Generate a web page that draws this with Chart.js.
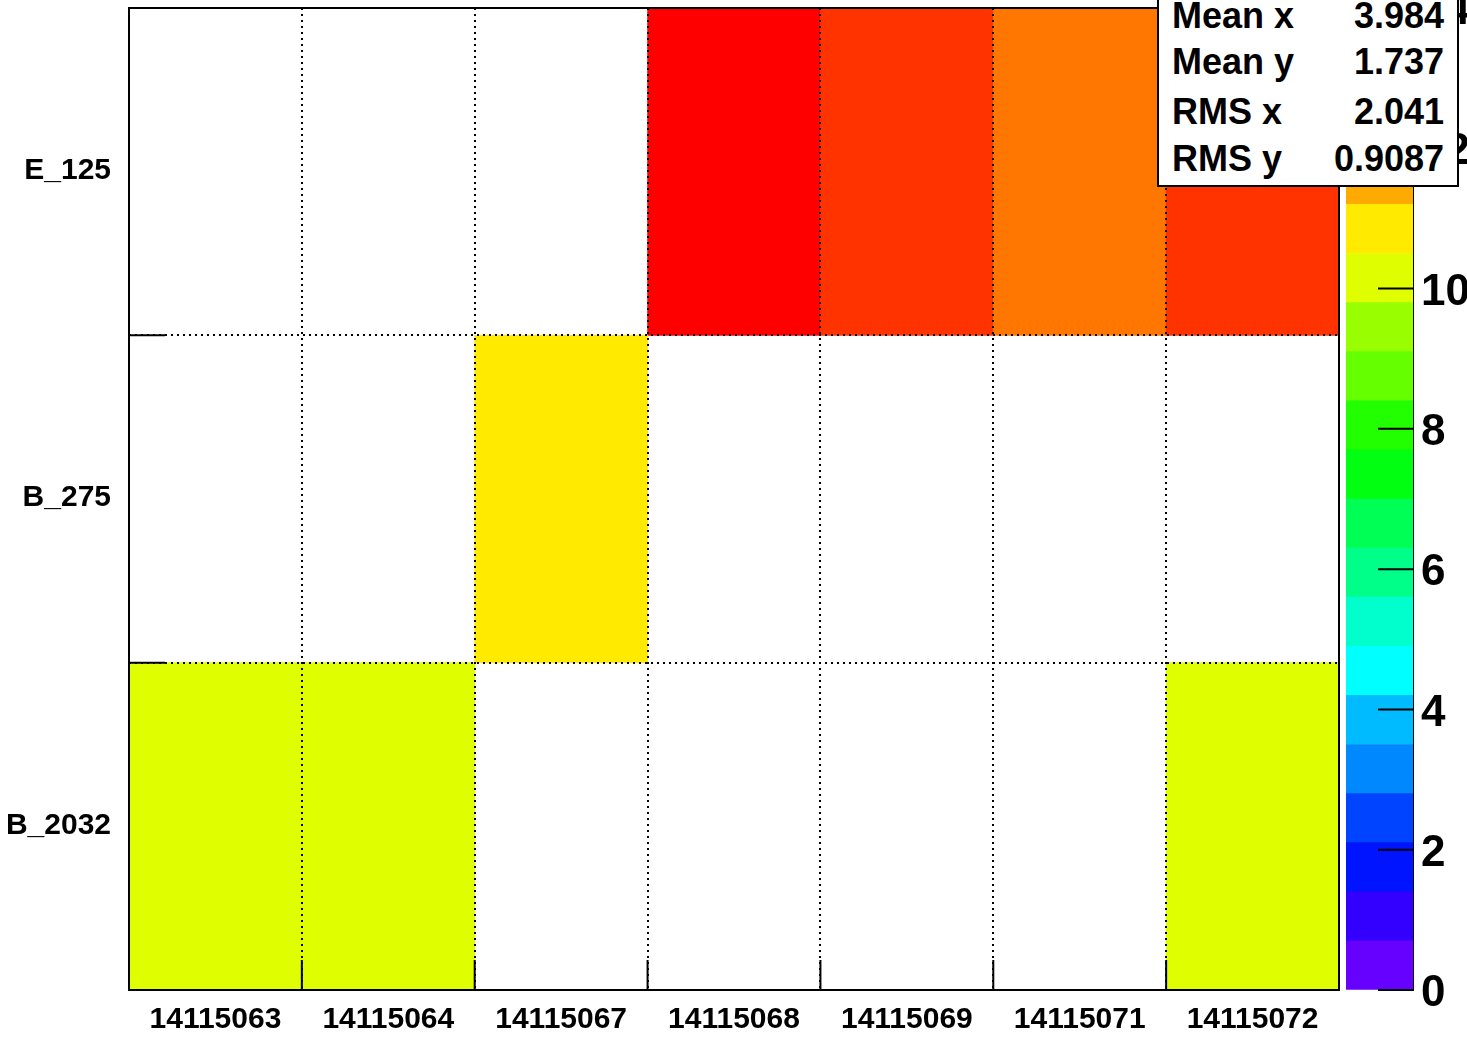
<!DOCTYPE html>
<html>
<head>
<meta charset="utf-8">
<title>Runs vs boards</title>
<script src="https://cdn.jsdelivr.net/npm/chart.js@4.4.0/dist/chart.umd.min.js"></script>
<style>
  html, body { margin: 0; padding: 0; background: #fff; }
  #wrap { position: relative; width: 1467px; height: 1041px; overflow: hidden; }
  #main { position: absolute; left: 0; top: 0; }
  #pal { position: absolute; left: 1340px; top: 0; }
  #stats {
    position: absolute; left: 1157px; top: -2px; width: 298px; height: 185px;
    border: 2px solid #000; background: #fff;
    font: bold 36px "Liberation Sans", Arial, sans-serif; color: #000;
  }
  #stats .row { position: absolute; left: 13px; right: 13px; height: 40px; line-height: 40px; white-space: nowrap; }
  #stats .row .v { position: absolute; right: 0; top: 0; }
</style>
</head>
<body>
<div id="wrap">
  <canvas id="main" width="1467" height="1041"></canvas>
  <canvas id="pal" width="127" height="1041"></canvas>
  <div id="stats">
    <div class="row" style="top:-4px">Mean x<span class="v">3.984</span></div>
    <div class="row" style="top:42px">Mean y<span class="v">1.737</span></div>
    <div class="row" style="top:92px">RMS x<span class="v">2.041</span></div>
    <div class="row" style="top:139px">RMS y<span class="v">0.9087</span></div>
  </div>
</div>
<script>
// run numbers along x, boards along y (bottom row first)
const runs = ['14115063', '14115064', '14115067', '14115068', '14115069', '14115071', '14115072'];
const rows = ['B_2032', 'B_275', 'E_125'];

// entries per cell, one array per row (bottom to top), 0 = empty
const countsB2032 = [10, 10, 0, 0, 0, 0, 10];
const countsB275  = [0, 0, 11, 0, 0, 0, 0];
const countsE125  = [0, 0, 0, 14, 13, 12, 13];
const counts = [countsB2032, countsB275, countsE125];

// z palette (20 contour levels from 0 to zMax)
const zMax = 14;
const zTicks = [0, 2, 4, 6, 8, 10, 12, 14];
const paletteColors = [
  '#6600ff', '#3300ff', '#0014ff', '#0044ff', '#0088ff',
  '#00bbff', '#00ffff', '#00ffcc', '#00ff88', '#00ff55',
  '#00ff11', '#22ff00', '#66ff00', '#99ff00', '#dfff00',
  '#ffea00', '#ffaa00', '#ff7700', '#ff3300', '#ff0000'
];
const step = zMax / paletteColors.length;

const FONT = '"Liberation Sans", Arial, sans-serif';

function colorFor(v){
  if (!v) return 'rgba(0,0,0,0)';
  const i = Math.min(paletteColors.length - 1, Math.floor(v / step));
  return paletteColors[i];
}

// keep chart area fixed: no extra padding for label overhang
function noPad(s){
  s.paddingTop = 0; s.paddingBottom = 0; s.paddingLeft = 0; s.paddingRight = 0;
}

// frame + inward tick marks like ROOT draws them
const frameTicks = {
  id: 'frameTicks',
  afterDraw(chart){
    const {ctx, chartArea: a} = chart;
    const xs = chart.scales.x, ys = chart.scales.y;
    ctx.save();
    ctx.strokeStyle = '#000';
    ctx.lineWidth = 2;
    ctx.setLineDash([]);
    ctx.strokeRect(a.left, a.top, a.right - a.left, a.bottom - a.top);
    ctx.beginPath();
    for (let k = 0; k <= runs.length; k++){
      const px = xs.getPixelForValue(k - 0.5);
      ctx.moveTo(px, a.bottom);
      ctx.lineTo(px, a.bottom - 30);
    }
    for (let k = 0; k <= rows.length; k++){
      const py = ys.getPixelForValue(k);
      ctx.moveTo(a.left, py);
      ctx.lineTo(a.left + 36, py);
    }
    ctx.stroke();
    ctx.restore();
  }
};

new Chart(document.getElementById('main'), {
  type: 'bar',
  data: {
    labels: runs,
    datasets: rows.map((r, i) => ({
      label: r,
      data: counts[i].map(v => v > 0 ? [i, i + 1] : null),
      backgroundColor: counts[i].map(colorFor),
      borderWidth: 0,
      grouped: false,
      barPercentage: 1,
      categoryPercentage: 1,
      yAxisID: 'y'
    }))
  },
  options: {
    responsive: false,
    animation: false,
    layout: { padding: { left: 0, right: 128, top: 8, bottom: 0 } },
    plugins: { legend: { display: false }, tooltip: { enabled: false } },
    scales: {
      x: {
        offset: true,
        grid: { offset: true, color: '#000', lineWidth: 2, drawTicks: false, z: 1 },
        border: { display: false, dash: [2, 4] },
        ticks: { color: '#000', font: { family: FONT, weight: 'bold', size: 30 }, padding: 12, maxRotation: 0, autoSkip: false },
        afterFit: s => { s.height = 51; noPad(s); }
      },
      y: { display: false, min: 0, max: rows.length },
      yl: {
        type: 'category',
        labels: rows.slice().reverse(),
        position: 'left',
        offset: true,
        grid: { offset: true, color: '#000', lineWidth: 2, drawTicks: false, z: 1 },
        border: { display: false, dash: [2, 4] },
        ticks: { color: '#000', font: { family: FONT, weight: 'bold', size: 30 }, padding: 18, autoSkip: false, labelOffset: -1 },
        afterFit: s => { s.width = 129; noPad(s); }
      }
    }
  },
  plugins: [frameTicks]
});

// colour scale on the right
const palTicks = {
  id: 'palTicks',
  afterDraw(chart){
    const {ctx, chartArea: a} = chart;
    const zs = chart.scales.y;
    ctx.save();
    ctx.strokeStyle = '#000';
    ctx.lineWidth = 2;
    ctx.beginPath();
    for (const t of zTicks){
      const py = zs.getPixelForValue(t);
      ctx.moveTo(a.right - 35, py);
      ctx.lineTo(a.right, py);
    }
    ctx.stroke();
    ctx.restore();
  }
};

new Chart(document.getElementById('pal'), {
  type: 'bar',
  data: {
    labels: [''],
    datasets: paletteColors.map((c, i) => ({
      data: [[i * step, (i + 1) * step]],
      backgroundColor: c,
      borderWidth: 0,
      grouped: false,
      barPercentage: 1,
      categoryPercentage: 1
    }))
  },
  options: {
    responsive: false,
    animation: false,
    layout: { padding: { left: 6, right: 0, top: 8, bottom: 51 } },
    plugins: { legend: { display: false }, tooltip: { enabled: false } },
    scales: {
      x: { display: false },
      y: {
        position: 'right',
        min: 0, max: zMax,
        afterBuildTicks: s => { s.ticks = zTicks.map(v => ({ value: v })); },
        grid: { drawOnChartArea: false, drawTicks: false },
        border: { color: '#000', width: 2 },
        ticks: { color: '#000', font: { family: FONT, weight: 'bold', size: 44 }, padding: 8, labelOffset: 4 },
        afterFit: s => { s.width = 54; noPad(s); }
      }
    }
  },
  plugins: [palTicks]
});
</script>
</body>
</html>
